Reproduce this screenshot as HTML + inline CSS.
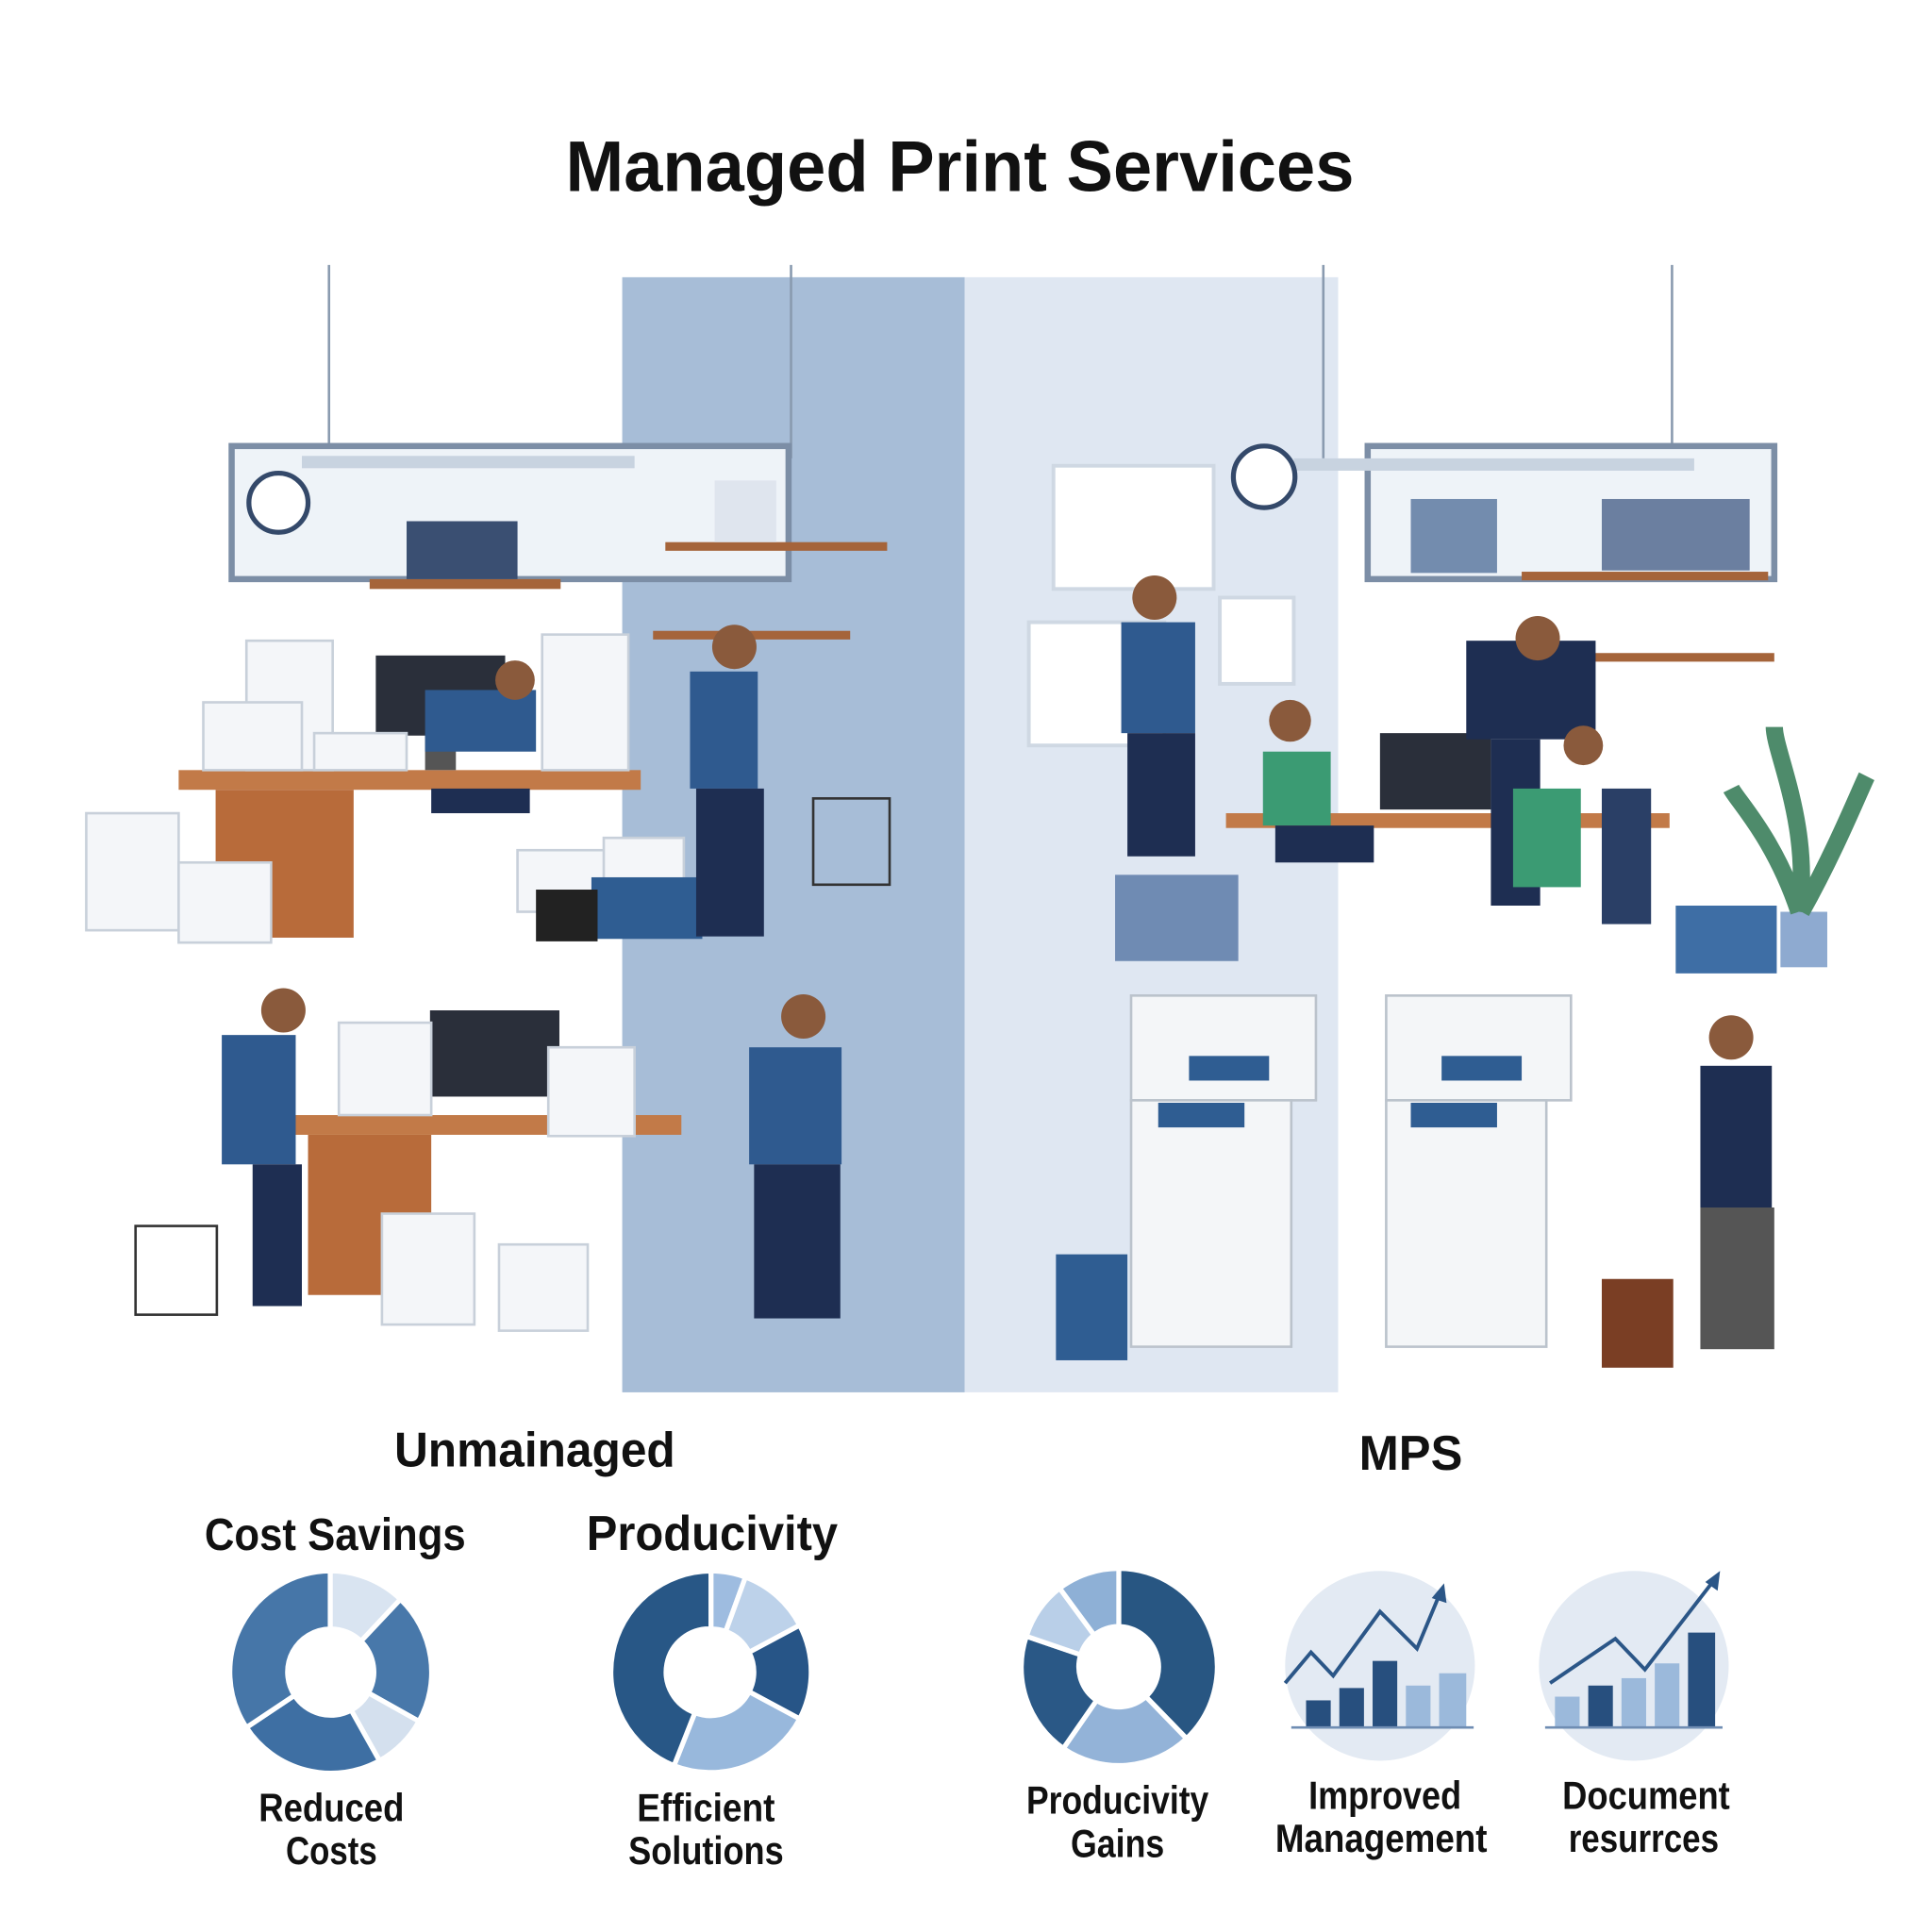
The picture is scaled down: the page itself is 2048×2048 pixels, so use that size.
<!DOCTYPE html>
<html><head><meta charset="utf-8"><style>
html,body{margin:0;padding:0;background:#fff}
svg{display:block}
text{font-family:"Liberation Sans",sans-serif;font-weight:bold;fill:#111}
</style></head><body>
<svg width="2048" height="2048" viewBox="0 0 1568 1568" xmlns="http://www.w3.org/2000/svg">
<rect width="1568" height="1568" fill="#fff"/>
<text x="779" y="155" font-size="58" text-anchor="middle" textLength="640" lengthAdjust="spacingAndGlyphs">Managed Print Services</text>

<!-- panels -->
<rect x="505" y="225" width="278" height="905" fill="#a7bdd7"/>
<rect x="783" y="225" width="303" height="905" fill="#dfe7f2"/>

<!-- ceiling lines -->
<g stroke="#8a9bb0" stroke-width="2">
<line x1="267" y1="215" x2="267" y2="372"/><line x1="642" y1="215" x2="642" y2="372"/>
<line x1="1074" y1="215" x2="1074" y2="372"/><line x1="1357" y1="215" x2="1357" y2="372"/>
</g>
<!-- left windows / lights -->
<rect x="188" y="362" width="452" height="108" fill="#eef3f8" stroke="#7c8ea6" stroke-width="5"/>
<rect x="245" y="370" width="270" height="10" fill="#c8d3e0"/>
<circle cx="226" cy="408" r="24" fill="#fff" stroke="#34496a" stroke-width="4"/>
<rect x="300" y="470" width="155" height="8" fill="#a5643a"/>
<rect x="330" y="423" width="90" height="47" fill="#3a4f72"/>
<rect x="540" y="440" width="180" height="7" fill="#a5643a"/>
<rect x="530" y="512" width="160" height="7" fill="#a5643a"/>
<rect x="580" y="390" width="50" height="50" fill="#dfe5ee"/>
<!-- right windows -->
<rect x="1110" y="362" width="330" height="108" fill="#eef3f8" stroke="#7c8ea6" stroke-width="5"/>
<rect x="1050" y="372" width="325" height="10" fill="#c8d3e0"/>
<circle cx="1026" cy="387" r="25" fill="#fff" stroke="#34496a" stroke-width="4"/>
<rect x="1235" y="464" width="200" height="7" fill="#a5643a"/>
<rect x="1275" y="530" width="165" height="7" fill="#a5643a"/>
<rect x="1145" y="405" width="70" height="60" fill="#3e5f8f" opacity=".7"/>
<rect x="1300" y="405" width="120" height="58" fill="#4a618a" opacity=".8"/>
<rect x="855" y="378" width="130" height="100" fill="#fff" stroke="#cfd8e3" stroke-width="3"/>
<rect x="835" y="505" width="110" height="100" fill="#fff" stroke="#cfd8e3" stroke-width="3"/>
<rect x="990" y="485" width="60" height="70" fill="#fff" stroke="#cfd8e3" stroke-width="3"/>

<!-- left desks -->
<rect x="145" y="625" width="375" height="16" fill="#c27a48"/>
<rect x="175" y="641" width="112" height="120" fill="#b86b3a"/>
<rect x="305" y="532" width="105" height="65" fill="#2a2f3a"/>
<rect x="345" y="597" width="25" height="28" fill="#555"/>
<g fill="#f4f6f9" stroke="#c8d0da" stroke-width="2">
<rect x="200" y="520" width="70" height="105"/><rect x="165" y="570" width="80" height="55"/>
<rect x="255" y="595" width="75" height="30"/><rect x="440" y="515" width="70" height="110"/>
<rect x="70" y="660" width="75" height="95"/><rect x="145" y="700" width="75" height="65"/>
<rect x="420" y="690" width="75" height="50"/><rect x="490" y="680" width="65" height="40"/>
</g>
<rect x="235" y="905" width="318" height="16" fill="#c27a48"/>
<rect x="250" y="921" width="100" height="130" fill="#b86b3a"/>
<rect x="349" y="820" width="105" height="70" fill="#2a2f3a"/>
<g fill="#f4f6f9" stroke="#c8d0da" stroke-width="2">
<rect x="275" y="830" width="75" height="75"/><rect x="445" y="850" width="70" height="72"/>
<rect x="310" y="985" width="75" height="90"/><rect x="405" y="1010" width="72" height="70"/>
</g>
<g fill="none" stroke="#333" stroke-width="2">
<rect x="660" y="648" width="62" height="70"/><rect x="110" y="995" width="66" height="72"/>
</g>
<rect x="480" y="712" width="90" height="50" fill="#2f5d92"/>
<rect x="435" y="722" width="50" height="42" fill="#222"/>

<!-- left people -->
<g fill="#2f5a8f">
<rect x="560" y="545" width="55" height="95"/><rect x="345" y="560" width="90" height="50"/>
<rect x="180" y="840" width="60" height="105"/><rect x="608" y="850" width="75" height="95"/>
</g>
<g fill="#1e2e52">
<rect x="565" y="640" width="55" height="120"/><rect x="205" y="945" width="40" height="115"/>
<rect x="612" y="945" width="70" height="125"/><rect x="350" y="640" width="80" height="20"/>
</g>
<g fill="#8a5a3c"><circle cx="596" cy="525" r="18"/><circle cx="230" cy="820" r="18"/><circle cx="652" cy="825" r="18"/><circle cx="418" cy="552" r="16"/></g>

<!-- right: desk & people -->
<rect x="995" y="660" width="360" height="12" fill="#c27a48"/>
<rect x="1120" y="595" width="90" height="62" fill="#2a2f3a"/>
<rect x="905" y="710" width="100" height="70" fill="#6f8bb3"/>
<g fill="#2f5a8f"><rect x="910" y="505" width="60" height="90"/></g>
<g fill="#1e2e52"><rect x="915" y="595" width="55" height="100"/><rect x="1190" y="520" width="105" height="80"/><rect x="1210" y="600" width="40" height="135"/><rect x="1380" y="865" width="58" height="115"/></g>
<g fill="#3b9b73"><rect x="1025" y="610" width="55" height="60"/><rect x="1228" y="640" width="55" height="80"/></g>
<g fill="#1e2e52"><rect x="1035" y="670" width="80" height="30"/></g>
<rect x="1380" y="980" width="60" height="115" fill="#555"/>
<g fill="#8a5a3c"><circle cx="937" cy="485" r="18"/><circle cx="1047" cy="585" r="17"/><circle cx="1248" cy="518" r="18"/><circle cx="1405" cy="842" r="18"/><circle cx="1285" cy="605" r="16"/></g>
<rect x="1300" y="640" width="40" height="110" fill="#2a3f66"/>
<rect x="1360" y="735" width="82" height="55" fill="#3e6ea5"/>
<rect x="1445" y="740" width="38" height="45" fill="#8eaad0"/>
<path d="M1460 740 C1440 680 1410 650 1405 640 M1460 740 C1470 670 1440 610 1440 590 M1462 740 C1490 690 1510 640 1515 630" stroke="#4e8b6b" stroke-width="14" fill="none"/>

<!-- printers -->
<g>
<rect x="918" y="808" width="150" height="85" fill="#f4f6f8" stroke="#bbc3cc" stroke-width="2"/>
<rect x="918" y="893" width="130" height="200" fill="#f4f6f8" stroke="#bbc3cc" stroke-width="2"/>
<rect x="965" y="857" width="65" height="20" fill="#2f5d92"/>
<rect x="940" y="895" width="70" height="20" fill="#2f5d92"/>
<rect x="1125" y="808" width="150" height="85" fill="#f4f6f8" stroke="#bbc3cc" stroke-width="2"/>
<rect x="1125" y="893" width="130" height="200" fill="#f4f6f8" stroke="#bbc3cc" stroke-width="2"/>
<rect x="1170" y="857" width="65" height="20" fill="#2f5d92"/>
<rect x="1145" y="895" width="70" height="20" fill="#2f5d92"/>
</g>
<rect x="857" y="1018" width="58" height="86" fill="#2f5d92"/>
<rect x="1300" y="1038" width="58" height="72" fill="#7a3e24"/>

<!-- headings -->
<text x="434" y="1190" font-size="40" text-anchor="middle" textLength="228" lengthAdjust="spacingAndGlyphs">Unmainaged</text>
<text x="1145" y="1193" font-size="40" text-anchor="middle" textLength="84" lengthAdjust="spacingAndGlyphs">MPS</text>
<text x="272" y="1258" font-size="37" text-anchor="middle" textLength="212" lengthAdjust="spacingAndGlyphs">Cost Savings</text>
<text x="578" y="1258" font-size="40" text-anchor="middle" textLength="204" lengthAdjust="spacingAndGlyphs">Producivity</text>

<!-- donut 1 -->
<g transform="translate(268,1357)" stroke="#fff" stroke-width="4">
<path d="M0 -82 A82 82 0 0 1 57 -59 L25 -25 A35 35 0 0 0 0 -35Z" fill="#d9e4f1"/>
<path d="M57 -59 A82 82 0 0 1 72 40 L31 17 A35 35 0 0 0 25 -25Z" fill="#4878aa"/>
<path d="M72 40 A82 82 0 0 1 40 72 L17 31 A35 35 0 0 0 31 17Z" fill="#d4e0ee"/>
<path d="M40 72 A82 82 0 0 1 -68 45 L-29 19 A35 35 0 0 0 17 31Z" fill="#3e6fa3"/>
<path d="M-68 45 A82 82 0 0 1 0 -82 L0 -35 A35 35 0 0 0 -29 19Z" fill="#4676a8"/>
</g>
<!-- donut 2 -->
<g transform="translate(577,1357)" stroke="#fff" stroke-width="4">
<path d="M0 -82 A82 82 0 0 1 28 -77 L12 -33 A35 35 0 0 0 0 -35Z" fill="#9ebce0"/>
<path d="M28 -77 A82 82 0 0 1 72 -38 L31 -16 A35 35 0 0 0 12 -33Z" fill="#bdd2ea"/>
<path d="M72 -38 A82 82 0 0 1 72 38 L31 16 A35 35 0 0 0 31 -16Z" fill="#275587"/>
<path d="M72 38 A82 82 0 0 1 -30 76 L-13 33 A35 35 0 0 0 31 16Z" fill="#98b8dc"/>
<path d="M-30 76 A82 82 0 0 1 0 -82 L0 -35 A35 35 0 0 0 -13 33Z" fill="#285786"/>
</g>
<!-- donut 3 -->
<g transform="translate(908,1353)" stroke="#fff" stroke-width="4">
<path d="M0 -80 A80 80 0 0 1 55 58 L22 24 A33 33 0 0 0 0 -33Z" fill="#285682"/>
<path d="M55 58 A80 80 0 0 1 -45 66 L-18 27 A33 33 0 0 0 22 24Z" fill="#93b3d8"/>
<path d="M-45 66 A80 80 0 0 1 -75 -25 L-31 -10 A33 33 0 0 0 -18 27Z" fill="#2a5886"/>
<path d="M-75 -25 A80 80 0 0 1 -48 -64 L-20 -26 A33 33 0 0 0 -31 -10Z" fill="#b9cfe8"/>
<path d="M-48 -64 A80 80 0 0 1 0 -80 L0 -33 A33 33 0 0 0 -20 -26Z" fill="#8eb0d6"/>
</g>
<!-- chart circles -->
<circle cx="1120" cy="1352" r="77" fill="#e3eaf3"/>
<g fill="#274f7e"><rect x="1060" y="1380" width="20" height="22"/><rect x="1087" y="1370" width="20" height="32"/><rect x="1114" y="1348" width="20" height="54"/></g>
<g fill="#9bb9db"><rect x="1141" y="1368" width="20" height="34"/><rect x="1168" y="1358" width="22" height="44"/></g>
<line x1="1048" y1="1402" x2="1196" y2="1402" stroke="#6f8db3" stroke-width="2"/>
<polyline points="1043,1366 1064,1341 1082,1360 1120,1308 1150,1338 1170,1290" fill="none" stroke="#2b5687" stroke-width="3"/>
<path d="M1162 1297 L1172 1285 L1174 1301Z" fill="#2b5687"/>
<circle cx="1326" cy="1352" r="77" fill="#e3eaf3"/>
<g fill="#9bb9db"><rect x="1262" y="1377" width="20" height="25"/><rect x="1316" y="1362" width="20" height="40"/><rect x="1343" y="1350" width="20" height="52"/></g>
<g fill="#274f7e"><rect x="1289" y="1368" width="20" height="34"/><rect x="1370" y="1325" width="22" height="77"/></g>
<line x1="1254" y1="1402" x2="1398" y2="1402" stroke="#6f8db3" stroke-width="2"/>
<polyline points="1258,1366 1311,1330 1335,1355 1393,1280" fill="none" stroke="#2b5687" stroke-width="3"/>
<path d="M1384 1284 L1396 1275 L1394 1291Z" fill="#2b5687"/>

<!-- bottom labels -->
<g font-size="32" text-anchor="middle">
<text x="269" y="1478" textLength="118" lengthAdjust="spacingAndGlyphs">Reduced</text>
<text x="269" y="1513" textLength="74" lengthAdjust="spacingAndGlyphs">Costs</text>
<text x="573" y="1478" textLength="112" lengthAdjust="spacingAndGlyphs">Efficient</text>
<text x="573" y="1513" textLength="126" lengthAdjust="spacingAndGlyphs">Solutions</text>
<text x="907" y="1472" textLength="148" lengthAdjust="spacingAndGlyphs">Producivity</text>
<text x="907" y="1507" textLength="76" lengthAdjust="spacingAndGlyphs">Gains</text>
<text x="1124" y="1468" textLength="124" lengthAdjust="spacingAndGlyphs">Improved</text>
<text x="1121" y="1503" textLength="172" lengthAdjust="spacingAndGlyphs">Management</text>
<text x="1336" y="1468" textLength="136" lengthAdjust="spacingAndGlyphs">Document</text>
<text x="1334" y="1503" textLength="122" lengthAdjust="spacingAndGlyphs">resurrces</text>
</g>
</svg>
</body></html>
